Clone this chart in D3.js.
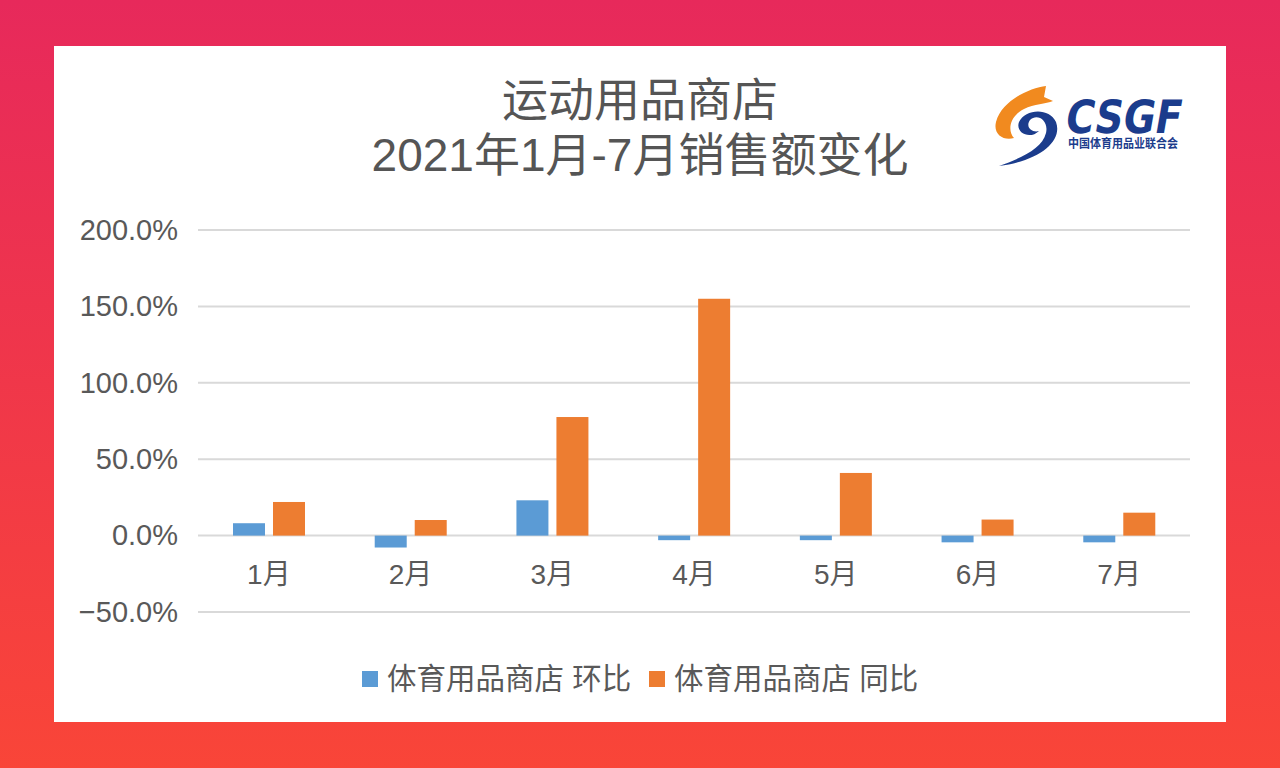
<!DOCTYPE html>
<html>
<head>
<meta charset="utf-8">
<script src="https://cdn.jsdelivr.net/npm/d3@7"></script>
<style>
    body { margin: 0; }
    svg { display: block; }
</style>
</head>
<body>
<div id="chart"></div>
<script>
const months = ["1月", "2月", "3月", "4月", "5月", "6月", "7月"];
const seriesNames = ["体育用品商店 环比", "体育用品商店 同比"];
const momValues = [8.1, -7.8, 23.1, -3.0, -3.0, -4.4, -4.4];
const yoyValues = [22.0, 10.2, 77.6, 155.0, 41.0, 10.5, 15.0];
const yTicks = [-50, 0, 50, 100, 150, 200];
const colors = ["#5B9BD5", "#ED7D31"];

const W = 1280, H = 768;
const plot = { left: 198, right: 1190, top: 230, bottom: 612 };
const fontFamily = "'Liberation Sans', 'Noto Sans CJK SC', sans-serif";

const data = months.map((m, i) => ({ month: m, values: [momValues[i], yoyValues[i]] }));

const svg = d3.select("#chart")
    .append("svg")
    .attr("width", W)
    .attr("height", H);

// background gradient + white card
const grad = svg.append("defs").append("linearGradient")
    .attr("id", "bg")
    .attr("x1", 0).attr("y1", 0).attr("x2", 0).attr("y2", 1);
grad.append("stop").attr("offset", "0%").attr("stop-color", "#E7295B");
grad.append("stop").attr("offset", "100%").attr("stop-color", "#F94538");

svg.append("rect").attr("width", W).attr("height", H).attr("fill", "url(#bg)");
svg.append("rect")
    .attr("x", 54).attr("y", 46)
    .attr("width", 1172).attr("height", 676)
    .attr("fill", "#ffffff");

// title
const title = svg.append("text")
    .attr("text-anchor", "middle")
    .attr("fill", "#555555")
    .style("font-family", fontFamily)
    .style("font-size", "46px");
title.append("tspan").attr("x", 640).attr("y", 116).text("运动用品商店");
title.append("tspan").attr("x", 640).attr("y", 171).text("2021年1月-7月销售额变化");

// scales
const x = d3.scaleBand()
    .domain(months)
    .range([plot.left, plot.right]);

const xs = d3.scaleBand()
    .domain([0, 1])
    .range([35, 107])
    .paddingInner(0.2);

const y = d3.scaleLinear()
    .domain([d3.min(yTicks), d3.max(yTicks)])
    .range([plot.bottom, plot.top]);

// gridlines
svg.append("g")
    .selectAll("line")
    .data(yTicks)
    .enter().append("line")
    .attr("x1", plot.left)
    .attr("x2", plot.right)
    .attr("y1", d => y(d))
    .attr("y2", d => y(d))
    .attr("stroke", "#D9D9D9")
    .attr("stroke-width", 2);

// y axis labels
const yAxis = svg.append("g")
    .attr("transform", `translate(${plot.left - 20}, 0)`)
    .call(d3.axisLeft(y).tickValues(yTicks).tickSize(0).tickPadding(0).tickFormat(d => d3.format(".1f")(d) + "%"));
yAxis.select(".domain").remove();
yAxis.selectAll("text")
    .attr("fill", "#595959")
    .style("font-family", fontFamily)
    .style("font-size", "29px");

// bars
const groups = svg.append("g")
    .selectAll("g")
    .data(data)
    .enter().append("g")
    .attr("transform", d => `translate(${x(d.month)}, 0)`);

groups.selectAll("rect")
    .data(d => d.values.map((v, i) => ({ v, i })))
    .enter().append("rect")
    .attr("x", d => xs(d.i))
    .attr("width", xs.bandwidth())
    .attr("y", d => y(Math.max(0, d.v)))
    .attr("height", d => Math.abs(y(d.v) - y(0)))
    .attr("fill", d => colors[d.i]);

// category labels
const xAxis = svg.append("g")
    .attr("transform", `translate(0, ${y(0) + 29})`)
    .call(d3.axisBottom(x).tickSize(0).tickPadding(0));
xAxis.select(".domain").remove();
xAxis.selectAll("text")
    .attr("fill", "#595959")
    .style("font-family", fontFamily)
    .style("font-size", "28px");

// legend
const legendItems = [
    { label: seriesNames[0], color: colors[0], x: 362 },
    { label: seriesNames[1], color: colors[1], x: 649 }
];
const legend = svg.append("g")
    .selectAll("g")
    .data(legendItems)
    .enter().append("g")
    .attr("transform", d => `translate(${d.x}, 679)`);
legend.append("rect")
    .attr("x", 0).attr("y", -8)
    .attr("width", 16).attr("height", 16)
    .attr("fill", d => d.color);
legend.append("text")
    .attr("x", 25)
    .attr("dy", "0.35em")
    .attr("fill", "#595959")
    .style("font-family", fontFamily)
    .style("font-size", "29.5px")
    .text(d => d.label);

// CSGF logo (rough vector copy)
const logo = svg.append("g");
logo.append("path")
    .attr("d", "M1046,86 C1030,88 1002,100 996,122 C993,134 1003,141 1014,138 C1007,130 1010,116 1024,109 C1034,104 1046,104 1053,101 L1044,97 Z")
    .attr("fill", "#F18A1F");
logo.append("path")
    .attr("d", "M999,166 C1040,161 1063,141 1056,122 C1049,107 1025,109 1019,122 C1015,133 1030,140 1039,131 C1032,133 1025,127 1030,120 C1037,113 1049,120 1046,133 C1042,149 1021,158 999,166 Z")
    .attr("fill", "#1B3C8C");
logo.append("text")
    .attr("x", 1064).attr("y", 133)
    .attr("transform", "skewX(-10) translate(23, 0)")
    .attr("textLength", 116)
    .attr("lengthAdjust", "spacingAndGlyphs")
    .attr("fill", "#1B3C8C")
    .style("font-family", "'DejaVu Sans', sans-serif")
    .style("font-weight", "bold")
    .style("font-size", "46px")
    .text("CSGF");
logo.append("text")
    .attr("x", 1068).attr("y", 148)
    .attr("textLength", 110)
    .attr("lengthAdjust", "spacingAndGlyphs")
    .attr("fill", "#1B3C8C")
    .style("font-family", "'Noto Sans CJK SC', sans-serif")
    .style("font-weight", "bold")
    .style("font-size", "12px")
    .text("中国体育用品业联合会");
</script>
</body>
</html>
